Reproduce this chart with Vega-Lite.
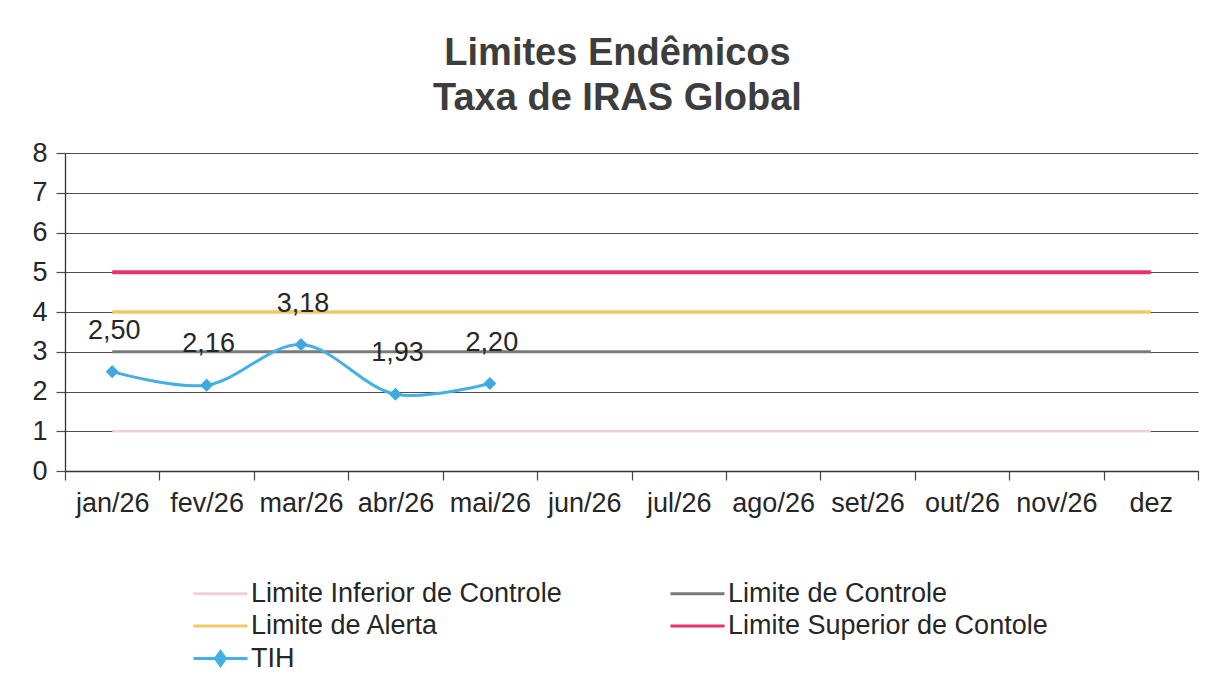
{
  "$schema": "https://vega.github.io/schema/vega-lite/v6.json",
  "width": 1133,
  "height": 318,
  "autosize": {"type": "none"},
  "padding": {"left": 65, "top": 153, "right": 31, "bottom": 213},
  "background": "white",
  "config": {
    "font": "Liberation Sans",
    "locale": {"number": {"decimal": ",", "thousands": ".", "grouping": [3], "currency": ["R$ ", ""]}},
    "view": {"stroke": null}
  },
  "title": {
    "text": ["Limites Endêmicos", "Taxa de IRAS Global"],
    "font": "Liberation Sans",
    "fontSize": 38,
    "fontWeight": "bold",
    "color": "#3d3d3d",
    "lineHeight": 45,
    "anchor": "middle",
    "dx": -14,
    "offset": 21
  },
  "data": {
    "values": [
      {"month": "jan/26", "series": "Limite Inferior de Controle", "value": 1},
      {"month": "fev/26", "series": "Limite Inferior de Controle", "value": 1},
      {"month": "mar/26", "series": "Limite Inferior de Controle", "value": 1},
      {"month": "abr/26", "series": "Limite Inferior de Controle", "value": 1},
      {"month": "mai/26", "series": "Limite Inferior de Controle", "value": 1},
      {"month": "jun/26", "series": "Limite Inferior de Controle", "value": 1},
      {"month": "jul/26", "series": "Limite Inferior de Controle", "value": 1},
      {"month": "ago/26", "series": "Limite Inferior de Controle", "value": 1},
      {"month": "set/26", "series": "Limite Inferior de Controle", "value": 1},
      {"month": "out/26", "series": "Limite Inferior de Controle", "value": 1},
      {"month": "nov/26", "series": "Limite Inferior de Controle", "value": 1},
      {"month": "dez", "series": "Limite Inferior de Controle", "value": 1},
      {"month": "jan/26", "series": "Limite de Controle", "value": 3},
      {"month": "fev/26", "series": "Limite de Controle", "value": 3},
      {"month": "mar/26", "series": "Limite de Controle", "value": 3},
      {"month": "abr/26", "series": "Limite de Controle", "value": 3},
      {"month": "mai/26", "series": "Limite de Controle", "value": 3},
      {"month": "jun/26", "series": "Limite de Controle", "value": 3},
      {"month": "jul/26", "series": "Limite de Controle", "value": 3},
      {"month": "ago/26", "series": "Limite de Controle", "value": 3},
      {"month": "set/26", "series": "Limite de Controle", "value": 3},
      {"month": "out/26", "series": "Limite de Controle", "value": 3},
      {"month": "nov/26", "series": "Limite de Controle", "value": 3},
      {"month": "dez", "series": "Limite de Controle", "value": 3},
      {"month": "jan/26", "series": "Limite de Alerta", "value": 4},
      {"month": "fev/26", "series": "Limite de Alerta", "value": 4},
      {"month": "mar/26", "series": "Limite de Alerta", "value": 4},
      {"month": "abr/26", "series": "Limite de Alerta", "value": 4},
      {"month": "mai/26", "series": "Limite de Alerta", "value": 4},
      {"month": "jun/26", "series": "Limite de Alerta", "value": 4},
      {"month": "jul/26", "series": "Limite de Alerta", "value": 4},
      {"month": "ago/26", "series": "Limite de Alerta", "value": 4},
      {"month": "set/26", "series": "Limite de Alerta", "value": 4},
      {"month": "out/26", "series": "Limite de Alerta", "value": 4},
      {"month": "nov/26", "series": "Limite de Alerta", "value": 4},
      {"month": "dez", "series": "Limite de Alerta", "value": 4},
      {"month": "jan/26", "series": "Limite Superior de Contole", "value": 5},
      {"month": "fev/26", "series": "Limite Superior de Contole", "value": 5},
      {"month": "mar/26", "series": "Limite Superior de Contole", "value": 5},
      {"month": "abr/26", "series": "Limite Superior de Contole", "value": 5},
      {"month": "mai/26", "series": "Limite Superior de Contole", "value": 5},
      {"month": "jun/26", "series": "Limite Superior de Contole", "value": 5},
      {"month": "jul/26", "series": "Limite Superior de Contole", "value": 5},
      {"month": "ago/26", "series": "Limite Superior de Contole", "value": 5},
      {"month": "set/26", "series": "Limite Superior de Contole", "value": 5},
      {"month": "out/26", "series": "Limite Superior de Contole", "value": 5},
      {"month": "nov/26", "series": "Limite Superior de Contole", "value": 5},
      {"month": "dez", "series": "Limite Superior de Contole", "value": 5},
      {"month": "jan/26", "series": "TIH", "value": 2.50},
      {"month": "fev/26", "series": "TIH", "value": 2.16},
      {"month": "mar/26", "series": "TIH", "value": 3.18},
      {"month": "abr/26", "series": "TIH", "value": 1.93},
      {"month": "mai/26", "series": "TIH", "value": 2.20}
    ]
  },
  "encoding": {
    "x": {
      "field": "month",
      "type": "ordinal",
      "sort": ["jan/26","fev/26","mar/26","abr/26","mai/26","jun/26","jul/26","ago/26","set/26","out/26","nov/26","dez"],
      "scale": {"type": "band", "paddingInner": 0, "paddingOuter": 0,
        "domain": ["jan/26","fev/26","mar/26","abr/26","mai/26","jun/26","jul/26","ago/26","set/26","out/26","nov/26","dez"]},
      "axis": {
        "title": null,
        "labelAngle": 0,
        "tickBand": "extent",
        "labelFontSize": 27,
        "labelColor": "#262626",
        "labelFont": "Liberation Sans",
        "tickSize": 9,
        "tickColor": "#444444",
        "tickWidth": 1.2,
        "domainColor": "#333333",
        "domainWidth": 1.3,
        "labelPadding": 10,
        "grid": false
      }
    },
    "y": {
      "field": "value",
      "type": "quantitative",
      "scale": {"domain": [0, 8], "nice": false},
      "axis": {
        "title": null,
        "values": [0,1,2,3,4,5,6,7,8],
        "format": "d",
        "grid": true,
        "gridColor": "#4d4d4d",
        "gridWidth": 1.2,
        "tickSize": 9,
        "tickColor": "#4d4d4d",
        "tickWidth": 1.2,
        "domainColor": "#333333",
        "domainWidth": 1.3,
        "labelFontSize": 27,
        "labelColor": "#262626",
        "labelFont": "Liberation Sans",
        "labelPadding": 9
      }
    }
  },
  "layer": [
    {
      "transform": [{"filter": "datum.series !== 'TIH'"}],
      "mark": {"type": "line"},
      "encoding": {
        "color": {
          "field": "series",
          "type": "nominal",
          "scale": {
            "domain": ["Limite Inferior de Controle", "Limite de Controle", "Limite de Alerta", "Limite Superior de Contole", "TIH"],
            "range": ["#f2cfd8", "#7a7a7a", "#f2c765", "#e8336a", "#45b0e3"]
          },
          "legend": {
            "title": null,
            "orient": "none",
            "direction": "horizontal",
            "legendX": 120,
            "legendY": 427,
            "columns": 2,
            "columnPadding": 100,
            "rowPadding": 4.5,
            "labelFontSize": 27,
            "labelFont": "Liberation Sans",
            "labelColor": "#262626",
            "labelLimit": 1000,
            "labelOffset": 39,
            "symbolSize": 100,
            "symbolStrokeWidth": 3,
            "encode": {
              "symbols": {
                "update": {
                  "shape": {"signal": "datum.value === 'TIH' ? 'M-1,0H9.8M3.4,0L4.4,-1.4L5.4,0L4.4,1.4Z' : 'M-1,0H9.8'"},
                  "stroke": {"scale": "color", "field": "value"},
                  "fill": {"scale": "color", "field": "value"},
                  "strokeWidth": {"value": 3},
                  "opacity": {"value": 1}
                }
              }
            }
          }
        },
        "strokeWidth": {
          "field": "series",
          "type": "nominal",
          "scale": {
            "domain": ["Limite Inferior de Controle", "Limite de Controle", "Limite de Alerta", "Limite Superior de Contole"],
            "range": [2.5, 4, 3.5, 4]
          },
          "legend": null
        }
      }
    },
    {
      "transform": [{"filter": "datum.series === 'TIH'"}],
      "mark": {"type": "line", "interpolate": "catmull-rom", "strokeWidth": 3},
      "encoding": {
        "color": {"field": "series", "type": "nominal"}
      }
    },
    {
      "transform": [{"filter": "datum.series === 'TIH'"}],
      "mark": {"type": "point", "shape": "diamond", "filled": true, "size": 170, "opacity": 1, "color": "#3fa9dd"}
    },
    {
      "transform": [{"filter": "datum.series === 'TIH'"}],
      "mark": {"type": "text", "dy": -41, "dx": 2, "fontSize": 27, "font": "Liberation Sans", "color": "#262626", "baseline": "middle"},
      "encoding": {
        "text": {"field": "value", "type": "quantitative", "format": ".2f"}
      }
    }
  ]
}
